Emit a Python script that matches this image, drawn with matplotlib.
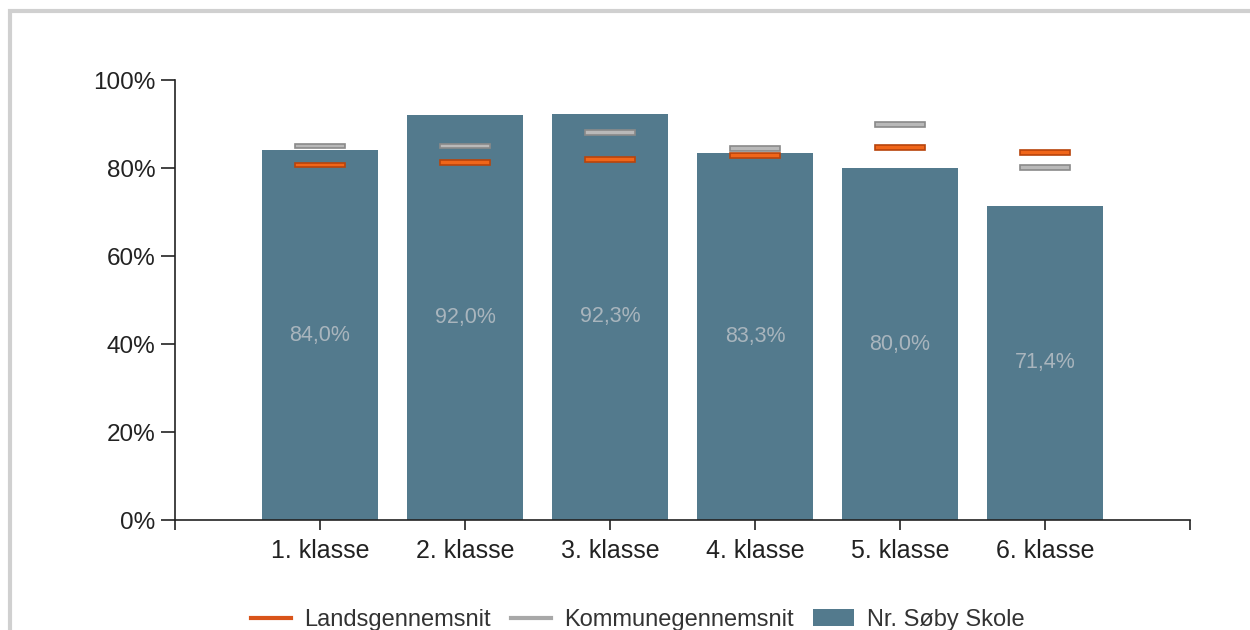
import numpy as np
import matplotlib.pyplot as plt
from matplotlib.lines import Line2D
from matplotlib.patches import Patch, Rectangle

plt.rcParams['font.family'] = ['Liberation Sans', 'DejaVu Sans']

classes = ['1. klasse', '2. klasse', '3. klasse', '4. klasse', '5. klasse', '6. klasse']
skole = [84.0, 92.0, 92.3, 83.3, 80.0, 71.4]
lands = [80.7, 81.3, 82.0, 82.8, 84.6, 83.6]
kommune = [85.0, 85.0, 88.0, 84.5, 89.8, 80.2]

bar_color = '#537a8d'
orange = '#f0661a'
orange_edge = '#b8440c'
grey = '#b9b9b9'
grey_edge = '#8a8a8a'

fig = plt.figure(figsize=(12.5, 6.3), dpi=100)
ax = fig.add_axes([0.14, 0.1746, 0.812, 0.6984])

x = np.arange(len(classes))
ax.bar(x, skole, width=0.8, color=bar_color, zorder=2)

mh = 1.1
ax.bar(x, mh, bottom=np.array(kommune) - mh / 2, width=0.34, color=grey,
       edgecolor=grey_edge, linewidth=1.2, zorder=3)
ax.bar(x, mh, bottom=np.array(lands) - mh / 2, width=0.34, color=orange,
       edgecolor=orange_edge, linewidth=1.2, zorder=4)

for xi, v in zip(x, skole):
    ax.text(xi, v / 2, f'{v:.1f}%'.replace('.', ','), ha='center', va='center',
            fontsize=15.5, color='#a9b5bd', zorder=5)

ax.set_xlim(-1, 6)
ax.set_ylim(0, 100)
ax.set_yticks(np.arange(0, 101, 20))
ax.set_yticklabels([f'{v}%' for v in range(0, 101, 20)])
ax.set_xticks(x)
ax.set_xticklabels(classes)
ax.set_xticks([-1, 6], minor=True)
ax.tick_params(axis='y', direction='out', length=10, width=1.2, labelsize=17.5,
               pad=4, colors='#222222')
ax.tick_params(axis='x', which='both', direction='out', length=7, width=1.2,
               labelsize=18, pad=7, colors='#222222')
for s in ['top', 'right']:
    ax.spines[s].set_visible(False)
for s in ['left', 'bottom']:
    ax.spines[s].set_linewidth(1.2)
    ax.spines[s].set_color('#222222')

handles = [Line2D([0], [0], color='#d9541a', lw=3),
           Line2D([0], [0], color='#a8a8a8', lw=3),
           Patch(facecolor=bar_color)]
fig.legend(handles, ['Landsgennemsnit', 'Kommunegennemsnit', 'Nr. Søby Skole'],
           loc='center', bbox_to_anchor=(0.51, 0.016), ncol=3, frameon=False,
           fontsize=17, handlelength=1.7, columnspacing=0.85, handletextpad=0.55,
           labelcolor='#333333')

fig.patches.append(Rectangle((10 / 1250, -0.1), 1.5, 1 - 11 / 630 + 0.1,
                             transform=fig.transFigure, fill=False,
                             edgecolor='#d0d0d0', linewidth=3))

fig.savefig('out.png', dpi=100)
